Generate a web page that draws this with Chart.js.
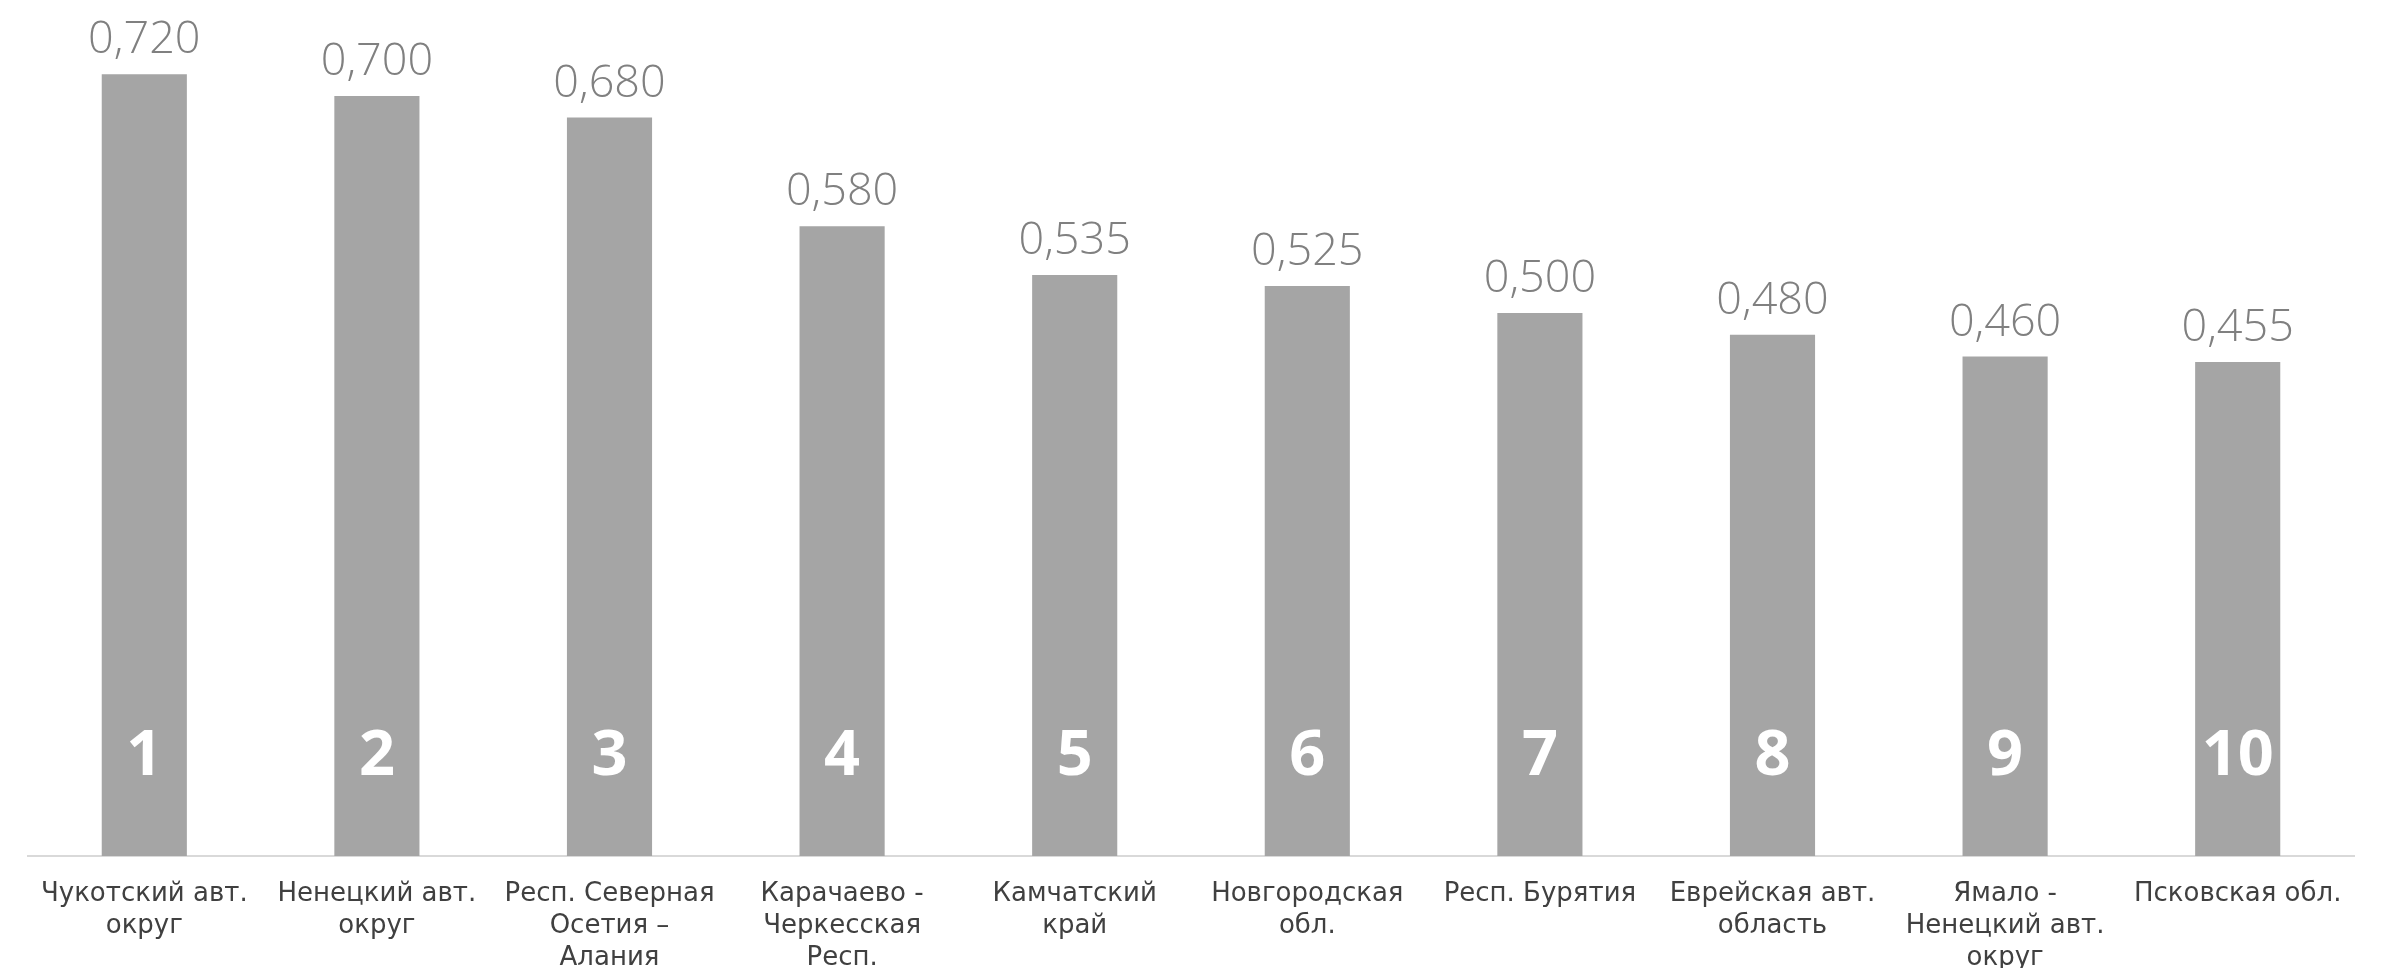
<!DOCTYPE html>
<html>
<head>
<meta charset="utf-8">
<script src="https://cdn.jsdelivr.net/npm/chart.js@4"></script>
<style>
  html, body { margin: 0; padding: 0; background: #ffffff; overflow: hidden; }
  #wrap { width: 2381px; height: 968px; position: relative; }
</style>
</head>
<body>
<div id="wrap"><canvas id="c"></canvas></div>
<script>
const categories = [
  ["Чукотский авт.", "округ"],
  ["Ненецкий авт.", "округ"],
  ["Респ. Северная", "Осетия –", "Алания"],
  ["Карачаево -", "Черкесская", "Респ."],
  ["Камчатский", "край"],
  ["Новгородская", "обл."],
  ["Респ. Бурятия"],
  ["Еврейская авт.", "область"],
  ["Ямало -", "Ненецкий авт.", "округ"],
  ["Псковская обл."]
];
const values = [0.720, 0.700, 0.680, 0.580, 0.535, 0.525, 0.500, 0.480, 0.460, 0.455];
const ranks = ["1", "2", "3", "4", "5", "6", "7", "8", "9", "10"];

const tickFont = '"DejaVu Sans", sans-serif';

const barLabels = {
  id: 'barLabels',
  afterDatasetsDraw(chart) {
    const ctx = chart.ctx;
    const meta = chart.getDatasetMeta(0);
    const base = chart.scales.y.getPixelForValue(0);
    meta.data.forEach((bar, i) => {
      ctx.save();
      ctx.textAlign = 'center';
      ctx.textBaseline = 'alphabetic';
      ctx.fillStyle = '#808080';
      ctx.font = '300 45px "Open Sans", sans-serif';
      ctx.fillText(values[i].toFixed(3).replace('.', ','), bar.x, bar.y - 21);
      ctx.fillStyle = '#ffffff';
      ctx.font = '700 63px "Open Sans", sans-serif';
      ctx.textBaseline = 'middle';
      ctx.fillText(ranks[i], bar.x, base - 99);
      ctx.restore();
    });
  }
};

new Chart(document.getElementById('c'), {
  type: 'bar',
  data: {
    labels: categories,
    datasets: [{
      data: values,
      backgroundColor: '#a5a5a5',
      borderWidth: 0,
      categoryPercentage: 1.0,
      barPercentage: 0.366
    }]
  },
  options: {
    responsive: true,
    maintainAspectRatio: false,
    animation: false,
    layout: { padding: { left: 28, right: 27, top: 9, bottom: -28 } },
    plugins: {
      legend: { display: false },
      tooltip: { enabled: false }
    },
    scales: {
      x: {
        grid: { display: false, drawTicks: false },
        border: { display: true, color: '#d9d9d9', width: 2 },
        ticks: {
          color: '#404040',
          font: { family: tickFont, size: 26, lineHeight: 1.23 },
          padding: 22,
          maxRotation: 0,
          autoSkip: false
        }
      },
      y: {
        display: false,
        min: 0,
        max: 0.78
      }
    }
  },
  plugins: [barLabels]
});
</script>
</body>
</html>
